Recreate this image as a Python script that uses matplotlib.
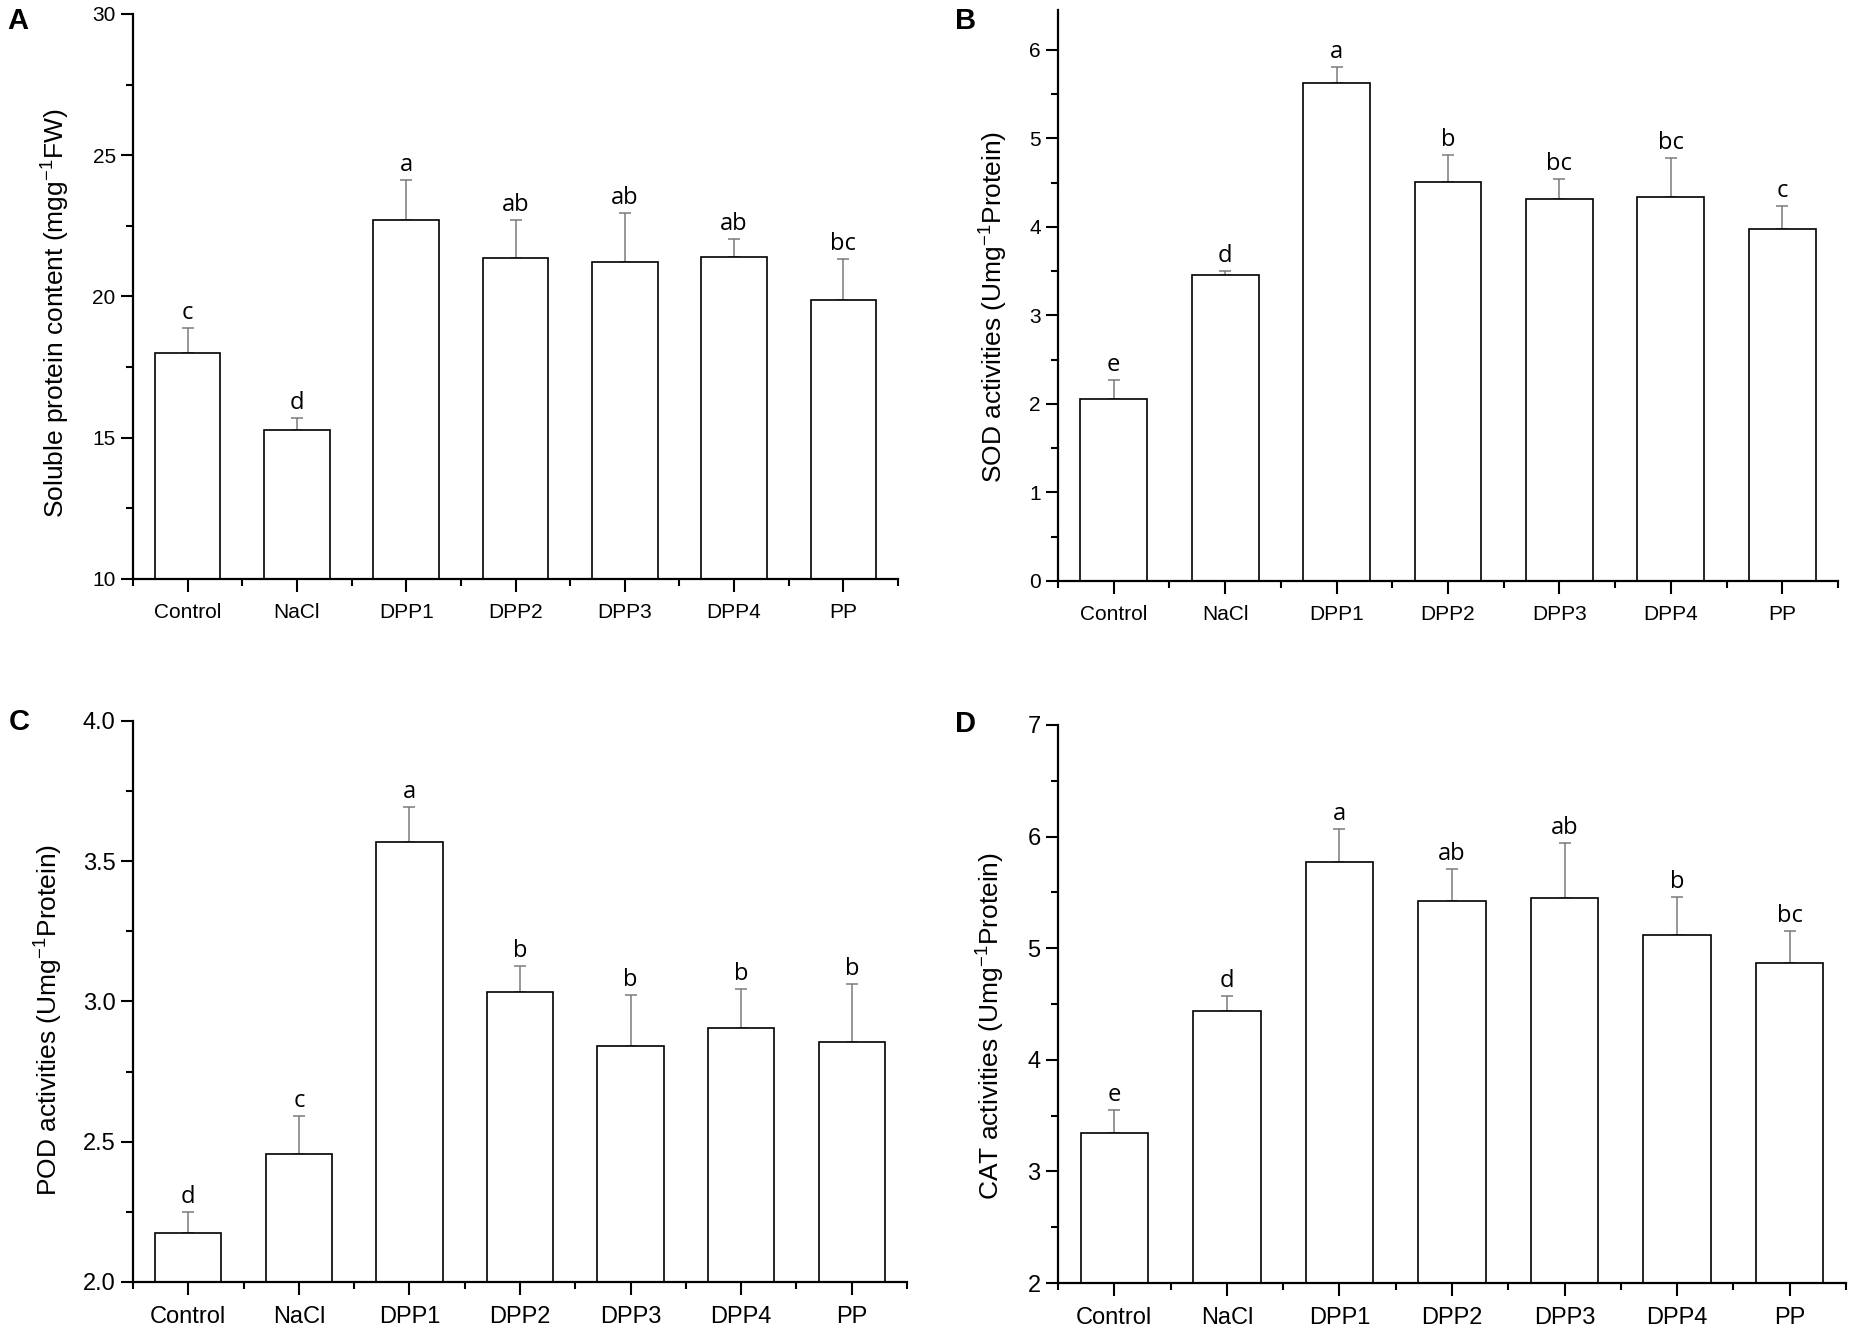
import numpy as np
import matplotlib
matplotlib.use('Agg')
from matplotlib import pyplot as plt
from matplotlib.ticker import MultipleLocator, FixedLocator, FormatStrFormatter

plt.rcParams['font.family'] = ['Liberation Sans', 'DejaVu Sans']
plt.rcParams['mathtext.fontset'] = 'custom'
plt.rcParams['mathtext.rm'] = 'Liberation Sans'
plt.rcParams['mathtext.it'] = 'Liberation Sans:italic'
plt.rcParams['mathtext.bf'] = 'Liberation Sans:bold'

categories = ['Control', 'NaCl', 'DPP1', 'DPP2', 'DPP3', 'DPP4', 'PP']

protein = [18.00, 15.27, 22.72, 21.37, 21.21, 21.40, 19.86]
protein_err = [0.89, 0.42, 1.41, 1.35, 1.73, 0.65, 1.46]
protein_letters = ['c', 'd', 'a', 'ab', 'ab', 'ab', 'bc']

sod = [2.05, 3.46, 5.62, 4.51, 4.31, 4.34, 3.98]
sod_err = [0.22, 0.04, 0.19, 0.30, 0.23, 0.44, 0.26]
sod_letters = ['e', 'd', 'a', 'b', 'bc', 'bc', 'c']

pod = [2.173, 2.455, 3.569, 3.033, 2.840, 2.906, 2.857]
pod_err = [0.077, 0.135, 0.123, 0.093, 0.183, 0.140, 0.207]
pod_letters = ['d', 'c', 'a', 'b', 'b', 'b', 'b']

cat = [3.34, 4.435, 5.77, 5.42, 5.45, 5.12, 4.87]
cat_err = [0.21, 0.135, 0.30, 0.29, 0.49, 0.34, 0.28]
cat_letters = ['e', 'd', 'a', 'ab', 'ab', 'b', 'bc']

fig = plt.figure(figsize=(18.5, 13.3), dpi=100)

# (tag, rect, values, errors, letters, ylabel, ylim, major, minor, fmt, ticksize, label coords, tag pos)
panels = [
    ('A', [0.0719, 0.5647, 0.4135, 0.4248], protein, protein_err, protein_letters,
     'Soluble protein content (mgg$^{-1}$FW)', (10, 30), 5, 2.5, '%d', 15,
     (-0.080, 0.47), (0.004, 0.995)),
    ('B', [0.5719, 0.5632, 0.4216, 0.4293], sod, sod_err, sod_letters,
     'SOD activities (Umg$^{-1}$Protein)', (0, 6.45), 1, 0.5, '%d', 15,
     (-0.0615, 0.48), (0.516, 0.995)),
    ('C', [0.0719, 0.0361, 0.4184, 0.4218], pod, pod_err, pod_letters,
     'POD activities (Umg$^{-1}$Protein)', (2.0, 4.0), 0.5, 0.25, '%.1f', 17,
     (-0.088, 0.467), (0.005, 0.468)),
    ('D', [0.5719, 0.0353, 0.4259, 0.4196], cat, cat_err, cat_letters,
     'CAT activities (Umg$^{-1}$Protein)', (2, 7), 1, 0.5, '%d', 17,
     (-0.065, 0.46), (0.516, 0.466)),
]

x = np.arange(1, len(categories) + 1)

for (tag, rect, vals, errs, lets, ylabel, ylim, major, minor, fmt, tsize, lab_xy, tag_xy) in panels:
    ax = fig.add_axes(rect)
    bottom = ylim[0]
    heights = np.array(vals) - bottom
    ax.bar(x, heights, bottom=bottom, width=0.6, color='white', edgecolor='black',
           linewidth=1.2, zorder=2)
    ax.errorbar(x, vals, yerr=[np.zeros(len(errs)), errs], fmt='none', ecolor='#7a7a7a',
                elinewidth=1.1, capsize=4.5, capthick=1.1, zorder=1)
    for xi, v, e, l in zip(x, vals, errs, lets):
        ax.annotate(l, (xi, v + e), xytext=(0, 6.5), textcoords='offset points',
                    ha='center', va='baseline', fontsize=17, family='Open Sans')

    ax.set_xlim(0.5, 7.5)
    ax.set_ylim(*ylim)
    ax.spines['top'].set_visible(False)
    ax.spines['right'].set_visible(False)
    ax.spines['left'].set_linewidth(1.6)
    ax.spines['bottom'].set_linewidth(1.6)

    ax.set_xticks(x)
    ax.set_xticklabels(categories)
    ax.xaxis.set_minor_locator(FixedLocator(np.arange(0.5, 7.6, 1)))
    ax.yaxis.set_major_locator(MultipleLocator(major))
    ax.yaxis.set_minor_locator(MultipleLocator(minor))
    ax.yaxis.set_major_formatter(FormatStrFormatter(fmt))

    ax.tick_params(axis='both', which='major', direction='out', length=9, width=1.5,
                   labelsize=tsize)
    ax.tick_params(axis='both', which='minor', direction='out', length=5, width=1.5)
    ax.tick_params(axis='x', which='major', pad=8)

    ax.set_ylabel(ylabel, fontsize=19)
    ax.yaxis.set_label_coords(*lab_xy)

    fig.text(tag_xy[0], tag_xy[1], tag, fontsize=21, fontweight='bold',
             ha='left', va='top', family='Liberation Sans')

fig.savefig('out.png', dpi=100)
